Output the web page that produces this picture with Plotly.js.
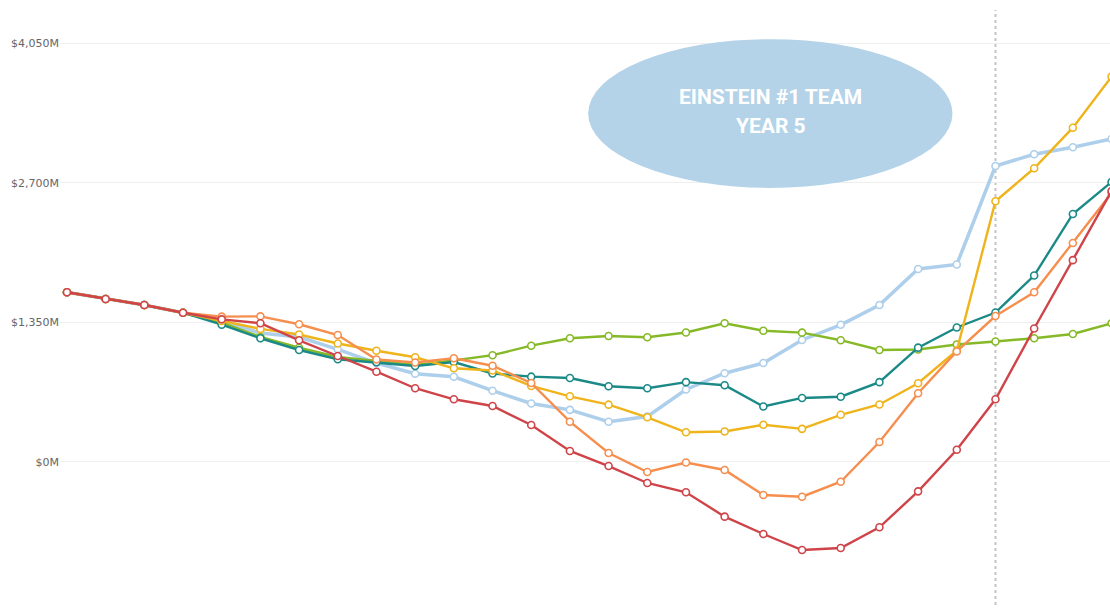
<!DOCTYPE html>
<html>
<head>
<meta charset="utf-8">
<script src="https://cdn.plot.ly/plotly-3.0.1.min.js"></script>
<style>
  html, body { margin: 0; padding: 0; background: #ffffff; }
  #chart { width: 1110px; height: 610px; }
</style>
</head>
<body>
<div id="chart"></div>
<script>
// Periods (x positions are period indices)
const periods = [0,1,2,3,4,5,6,7,8,9,10,11,12,13,14,15,16,17,18,19,20,21,22,23,24,25,26,27];

// Series values in $M
const lightBlue = [1640,1575,1517,1442,1357,1246,1207,1088,955,852,822,687,563,502,387,438,699,856,955,1178,1325,1517,1865,1909,2862,2976,3043,3124];
const green     = [1640,1575,1517,1442,1347,1207,1103,1013,975,936,980,1031,1123,1195,1217,1204,1251,1340,1267,1249,1176,1081,1086,1134,1164,1195,1236,1340];
const teal      = [1640,1575,1517,1442,1326,1195,1081,992,962,926,965,854,823,810,730,711,770,740,534,617,629,770,1104,1299,1444,1802,2398,2707];
const yellow    = [1640,1575,1517,1442,1362,1285,1231,1144,1074,1011,904,883,733,633,552,430,285,292,357,318,454,554,759,1076,2521,2840,3233,3727];
const orange    = [1640,1575,1517,1442,1404,1407,1330,1226,989,960,1001,929,762,387,84,-100,-8,-80,-322,-339,-194,191,662,1067,1410,1640,2117,2601];
const red       = [1640,1575,1517,1442,1378,1340,1175,1023,871,711,604,539,355,104,-42,-206,-296,-532,-700,-855,-835,-635,-287,116,604,1289,1951,2620];

// Y-axis ticks
const tickVals  = [0, 1350, 2700, 4050];
const tickTexts = ["$0M", "$1,350M", "$2,700M", "$4,050M"];

// Reference period marked with the dotted line
const markerPeriod = 24;
const calloutLines = ["EINSTEIN #1 TEAM", "YEAR 5"];

function mk(y, color, width) {
  return {
    x: periods, y: y, type: 'scatter', mode: 'lines+markers',
    line: { color: color, width: width },
    marker: { size: 7, color: '#ffffff', line: { color: color, width: 1.6 } },
    hoverinfo: 'skip', showlegend: false, cliponaxis: true
  };
}

const traces = [
  mk(lightBlue, '#aecfeb', 3.5),
  mk(green, '#86b927', 2.4),
  mk(teal, '#1b8a87', 2.4),
  mk(yellow, '#efb41c', 2.4),
  mk(orange, '#f68e4e', 2.4),
  mk(red, '#cf4449', 2.4)
];

const textFont = { family: 'Roboto, Arial, sans-serif', size: 21, color: '#ffffff' };

const layout = {
  width: 1110, height: 610,
  margin: { l: 60, r: 0, t: 10, b: 5 },
  paper_bgcolor: '#ffffff', plot_bgcolor: '#ffffff',
  showlegend: false,
  xaxis: {
    range: [-0.18, 26.96], showgrid: false, zeroline: false,
    showticklabels: false, ticks: '', showline: false
  },
  yaxis: {
    range: [-1387, 4372],
    tickvals: tickVals, ticktext: tickTexts,
    showgrid: true, gridcolor: '#efefef', gridwidth: 1,
    zeroline: false, showline: false, ticks: '',
    tickfont: { family: 'DejaVu Sans, Verdana, sans-serif', size: 11, color: '#666666' }
  },
  shapes: [
    {
      type: 'line', xref: 'x', yref: 'paper',
      x0: markerPeriod, x1: markerPeriod, y0: 0, y1: 1,
      line: { color: '#c4c4c4', width: 2, dash: 'dot' }, layer: 'below'
    },
    {
      type: 'circle', xref: 'paper', yref: 'paper',
      x0: 0.503, x1: 0.850, y0: 0.701, y1: 0.951,
      fillcolor: '#b4d3e8', line: { width: 0 }, layer: 'above'
    }
  ],
  annotations: [
    {
      xref: 'paper', yref: 'paper', x: 0.677, y: 0.854,
      xanchor: 'center', yanchor: 'middle',
      text: '<b>' + calloutLines[0] + '</b>', showarrow: false,
      font: textFont
    },
    {
      xref: 'paper', yref: 'paper', x: 0.677, y: 0.805,
      xanchor: 'center', yanchor: 'middle',
      text: '<b>' + calloutLines[1] + '</b>', showarrow: false,
      font: textFont
    }
  ]
};

Plotly.newPlot('chart', traces, layout, { staticPlot: true, displayModeBar: false });
</script>
</body>
</html>
